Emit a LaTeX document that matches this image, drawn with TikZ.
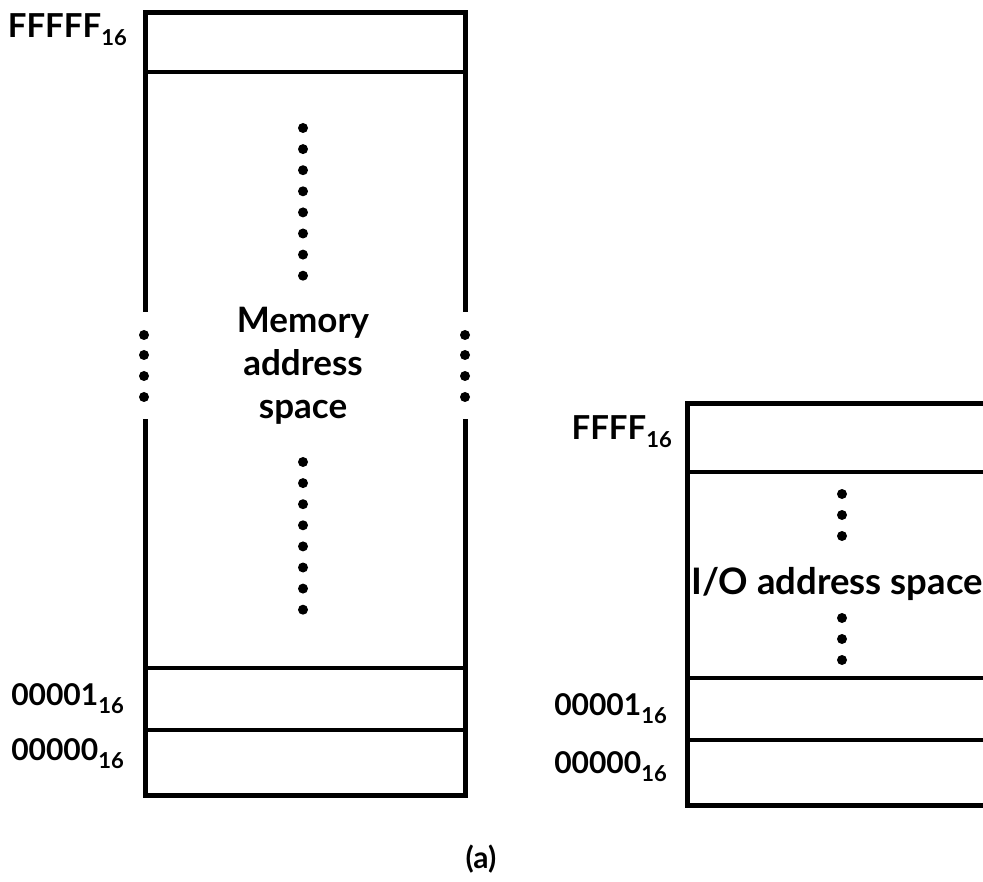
\documentclass[tikz,border=0pt]{standalone}
\usepackage{fontspec}
\setmainfont{Lato}
\begin{document}
\begin{tikzpicture}[x=1pt,y=-1pt,
  frame/.style={line width=5pt,line cap=rect,line join=miter},
  sep/.style={line width=4.8pt},
  dot/.style={fill=black,draw=none},
  lbl/.style={inner sep=0pt,anchor=base east,font=\fontsize{33}{35}\selectfont\bfseries},
  numlbl/.style={lbl,font=\fontsize{30}{32}\selectfont\bfseries},
  body/.style={inner sep=0pt,font=\fontsize{35}{43}\selectfont\bfseries,align=center}]
\newcommand{\hexsub}{\raisebox{-8pt}{\fontsize{22}{22}\selectfont 16}}
\useasboundingbox (0,0) rectangle (983,882);
% ---- left box (memory address space)
\coordinate (ltl) at (145,13);
\coordinate (ltr) at (465,13);
\coordinate (lbl0) at (145,795);
\coordinate (lbr) at (465,795);
\draw[frame] (145,310) -- (ltl) -- (ltr) -- (465,310);
\draw[frame] (145,422) -- (lbl0) -- (lbr) -- (465,422);
\draw[sep] (145,72) -- (465,72);
\draw[sep] (145,668) -- (465,668);
\draw[sep] (145,730) -- (465,730);
\foreach \y in {335,355,376,397} {
  \fill[dot] (144,\y) circle (5);
  \fill[dot] (465,\y) circle (5);
}
\foreach \i in {0,...,7} {
  \fill[dot] (303,128+21.1*\i) circle (5);
  \fill[dot] (303,462+21.1*\i) circle (5);
}
\node[body,anchor=base] (mem) at (303,419) {Memory\\address\\space};
\node[lbl] (mF) at (127,38) {FFFFF\hexsub};
\node[numlbl] (m1) at (124,705) {00001\hexsub};
\node[numlbl] (m0) at (124,760) {00000\hexsub};
% ---- right box (I/O address space)
\draw[frame] (995,404) -- (687,404) -- (687,805) -- (995,805);
\draw[sep] (687,472) -- (995,472);
\draw[sep] (687,678) -- (995,678);
\draw[sep] (687,740) -- (995,740);
\foreach \y in {494,515,536,618,639,660} {
  \fill[dot] (842,\y) circle (5);
}
\node[body,anchor=base,font=\fontsize{36.5}{40}\selectfont\bfseries] (io) at (837,594) {I/O address space};
\node[lbl] (iF) at (672,440) {FFFF\hexsub};
\node[numlbl] (i1) at (667,715) {00001\hexsub};
\node[numlbl] (i0) at (667,773) {00000\hexsub};
% ---- caption
\node[body,anchor=base,font=\fontsize{30}{32}\selectfont\bfseries] (cap) at (481,868) {(a)};
\end{tikzpicture}
\end{document}
